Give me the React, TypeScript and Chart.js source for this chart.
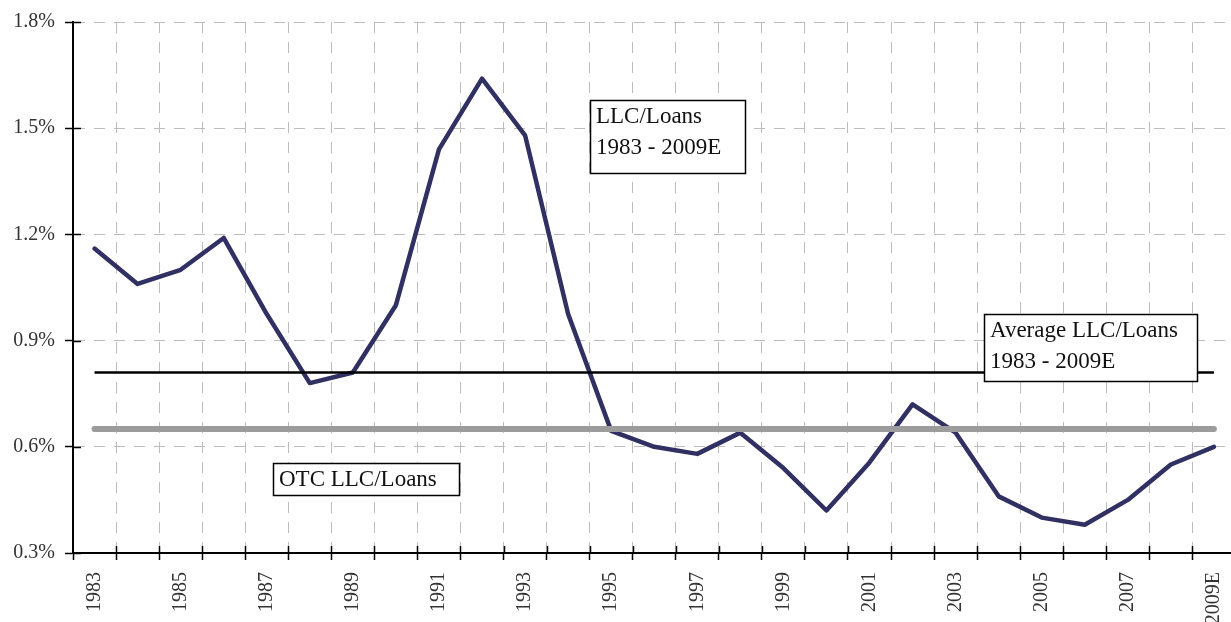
import React, { useEffect, useRef } from "react";
import { Chart, registerables } from "chart.js";

Chart.register(...registerables);

const years = [
  "1983", "1984", "1985", "1986", "1987", "1988", "1989", "1990", "1991",
  "1992", "1993", "1994", "1995", "1996", "1997", "1998", "1999", "2000",
  "2001", "2002", "2003", "2004", "2005", "2006", "2007", "2008", "2009E",
];

const llcLoans = [
  1.16, 1.06, 1.1, 1.19, 0.975, 0.78, 0.81, 1.0, 1.44,
  1.64, 1.48, 0.975, 0.645, 0.6, 0.58, 0.64, 0.54, 0.42,
  0.556, 0.72, 0.64, 0.46, 0.4, 0.38, 0.45, 0.55, 0.6,
];

const averageLlcLoans = 0.81;
const otcLlcLoans = 0.65;

const yTicks = [0.3, 0.6, 0.9, 1.2, 1.5, 1.8];

const boxLines1 = ["LLC/Loans", "1983 - 2009E"];
const boxLines2 = ["Average LLC/Loans", "1983 - 2009E"];
const boxLines3 = ["OTC LLC/Loans"];

const FONT = '"Liberation Serif", "Times New Roman", serif';

const boxes = [
  { lines: boxLines1, x: 590, y: 100, w: 155, h: 73 },
  { lines: boxLines2, x: 984, y: 314, w: 213, h: 67 },
  { lines: boxLines3, x: 273, y: 463, w: 186, h: 32 },
];

const decorPlugin = {
  id: "decor",
  afterDraw(chart: any) {
    const ctx = chart.ctx;
    const xs = chart.scales.x;
    const ys = chart.scales.y;
    const area = chart.chartArea;
    ctx.save();
    // inner halves of the crossing tick marks
    ctx.strokeStyle = "#000";
    ctx.lineWidth = 1.5;
    ctx.beginPath();
    yTicks.forEach((v) => {
      const py = Math.round(ys.getPixelForValue(v)) + 0.5;
      ctx.moveTo(area.left, py);
      ctx.lineTo(area.left + 8, py);
    });
    for (let i = 1; i <= years.length; i++) {
      const px = Math.round(xs.getPixelForValue(i - 0.5)) + 0.5;
      ctx.moveTo(px, area.bottom);
      ctx.lineTo(px, area.bottom - 7);
    }
    ctx.stroke();

    // annotation boxes
    boxes.forEach((b) => {
      ctx.fillStyle = "#fff";
      ctx.fillRect(b.x, b.y, b.w, b.h);
      ctx.strokeStyle = "#000";
      ctx.lineWidth = 1.5;
      ctx.strokeRect(b.x + 0.5, b.y + 0.5, b.w, b.h);
      ctx.fillStyle = "#111";
      ctx.font = `23px ${FONT}`;
      ctx.textBaseline = "alphabetic";
      ctx.textAlign = "left";
      b.lines.forEach((t, i) => {
        ctx.fillText(t, b.x + 6, b.y + 23 + i * 31);
      });
    });
    ctx.restore();
  },
};

export default function App() {
  const ref = useRef<HTMLCanvasElement>(null);

  useEffect(() => {
    if (!ref.current) return;
    const chart = new Chart(ref.current, {
      type: "line",
      data: {
        labels: years,
        datasets: [
          {
            label: "LLC/Loans",
            data: llcLoans,
            borderColor: "#303062",
            borderWidth: 4.5,
            pointRadius: 0,
            tension: 0,
            fill: false,
            order: 3,
            borderJoinStyle: "round",
            borderCapStyle: "round",
          },
          {
            label: "Average LLC/Loans",
            data: years.map(() => averageLlcLoans),
            borderColor: "#000",
            borderWidth: 2.5,
            pointRadius: 0,
            fill: false,
            order: 2,
          },
          {
            label: "OTC LLC/Loans",
            data: years.map(() => otcLlcLoans),
            borderColor: "#9c9c9c",
            borderWidth: 6,
            pointRadius: 0,
            fill: false,
            order: 1,
            borderCapStyle: "round",
          },
        ],
      },
      options: {
        animation: false,
        responsive: true,
        maintainAspectRatio: false,
        layout: { padding: { top: 20, right: 4, left: 0, bottom: 0 } },
        plugins: {
          legend: { display: false },
          tooltip: { enabled: false },
        },
        scales: {
          x: {
            type: "category",
            offset: true,
            grid: {
              offset: true,
              color: "#bcbcbc",
              lineWidth: 1,
              tickColor: "#000",
              tickWidth: 1.5,
              tickLength: 7,
            },
            border: { color: "#000", width: 2, dash: [11, 9] },
            ticks: {
              autoSkip: false,
              minRotation: 90,
              maxRotation: 90,
              padding: 12,
              color: "#333",
              font: { family: FONT, size: 20 },
              callback: (_v: any, i: number) => (i % 2 === 0 ? years[i] : ""),
            },
            afterFit: (s: any) => {
              s.height = 69;
            },
          },
          y: {
            min: 0.3,
            max: 1.8,
            grid: {
              color: "#bcbcbc",
              lineWidth: 1,
              tickColor: "#000",
              tickWidth: 1.5,
              tickLength: 8,
            },
            border: { color: "#000", width: 2, dash: [11, 9] },
            ticks: {
              padding: 10,
              color: "#333",
              font: { family: FONT, size: 20 },
              callback: (v: any) => Number(v).toFixed(1) + "%",
            },
            afterBuildTicks: (s: any) => {
              s.ticks = yTicks.map((v) => ({ value: v }));
            },
            afterFit: (s: any) => {
              s.width = 73;
            },
          },
        },
      },
      plugins: [decorPlugin],
    });
    return () => chart.destroy();
  }, []);

  return (
    <div
      style={{
        position: "fixed",
        left: 0,
        top: 0,
        width: 1231,
        height: 622,
        overflow: "hidden",
        background: "#fff",
      }}
    >
      <div style={{ position: "relative", width: 1250, height: 622 }}>
        <canvas ref={ref} />
      </div>
    </div>
  );
}
